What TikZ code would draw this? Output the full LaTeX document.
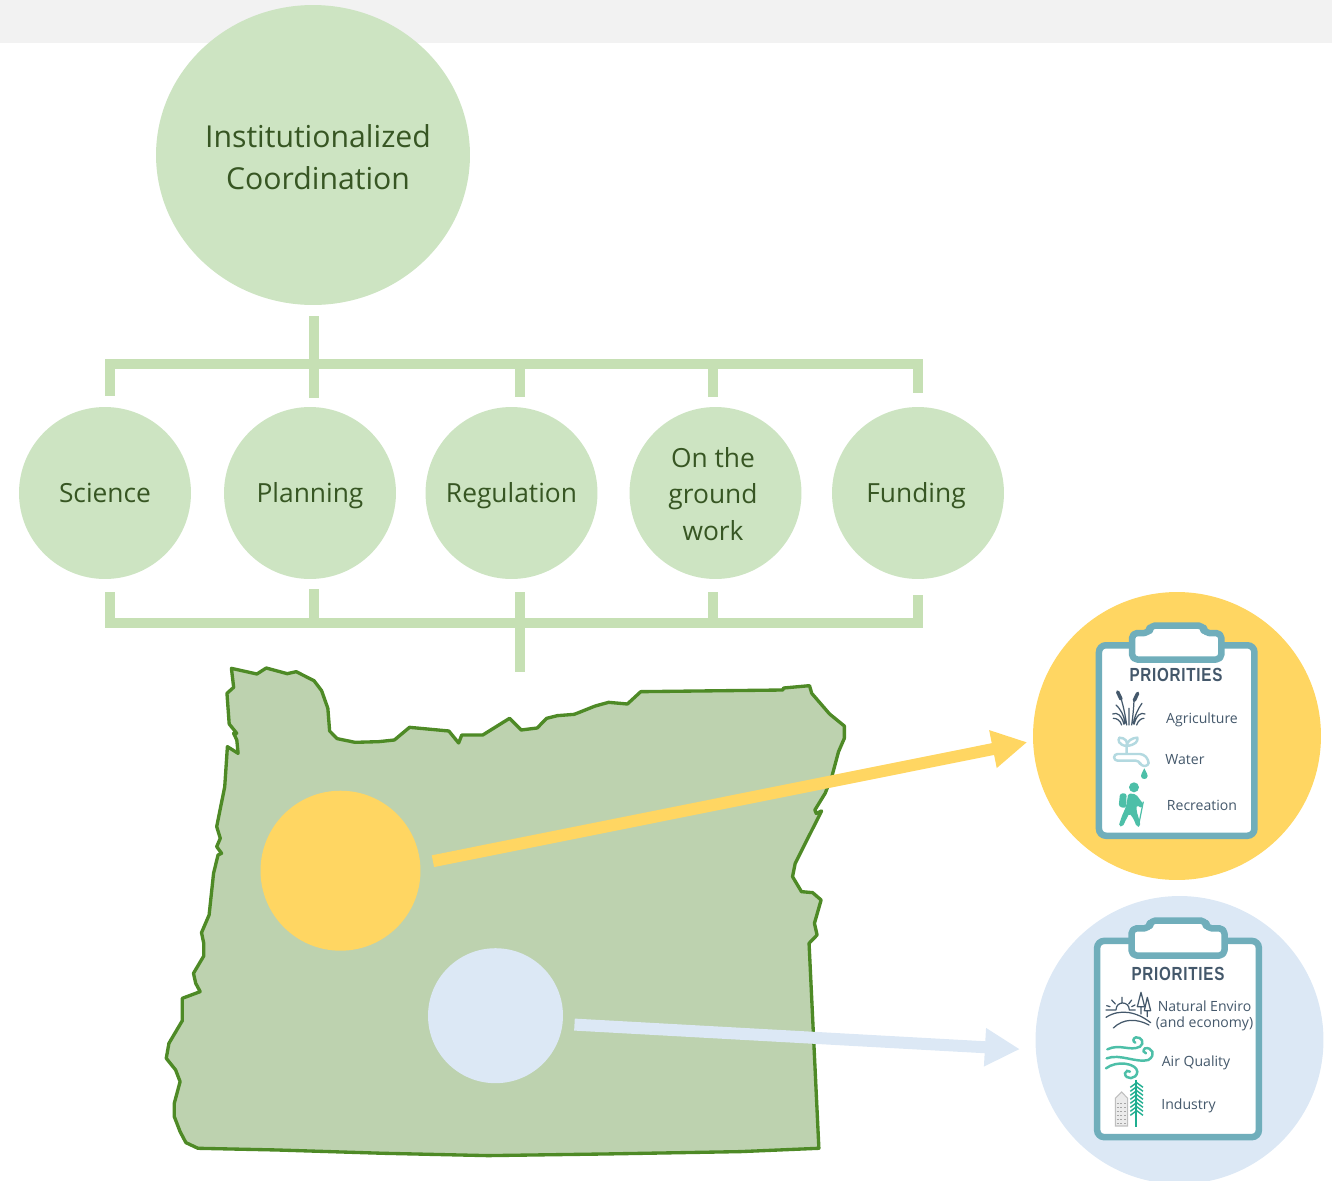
\documentclass[tikz,border=0pt]{standalone}
\usepackage{fontspec}
\usetikzlibrary{arrows.meta,shapes.geometric}
\setmainfont{Open Sans}
\newfontfamily\boardfont[LetterSpace=5]{Liberation Sans}
\newcommand{\boardhead}{\scalebox{0.8}[1]{\boardfont\bfseries\fontsize{10.8}{12}\selectfont PRIORITIES}}
\definecolor{bandgray}{HTML}{F2F2F2}
\definecolor{hubgreen}{HTML}{CDE4C2}
\definecolor{bargreen}{HTML}{C6E0B4}
\definecolor{hubtext}{HTML}{375623}
\definecolor{mapfill}{HTML}{BDD2AF}
\definecolor{mapline}{HTML}{4E8A26}
\definecolor{sunny}{HTML}{FFD662}
\definecolor{pale}{HTML}{DCE8F5}
\definecolor{boardteal}{HTML}{70AEBB}
\definecolor{slate}{HTML}{44586B}
\definecolor{mint}{HTML}{4DBFA8}
\definecolor{tapblue}{HTML}{B3D9E0}
\definecolor{pine}{HTML}{1FAE90}
\tikzset{hub/.style = {circle, fill=hubgreen, minimum size=3.44cm, inner sep=0pt, outer sep=0pt},
         hubname/.style = {text=hubtext, inner sep=0pt, align=center, font=\fontsize{15}{20.7}\selectfont},
         hubword/.style = {hubname, text height=11.3pt, text depth=0pt},
         bracket/.style = {bargreen, line width=0.2cm},
         spot/.style = {circle, inner sep=0pt, outer sep=0pt},
         pointer/.style = {line width=0.24cm, -{Triangle[length=0.7cm,width=0.72cm]}},
         boardtext/.style = {text=slate, inner sep=0pt, align=center, font=\fontsize{8}{9.1}\selectfont},
         boardtitle/.style = {text=slate, inner sep=0pt},
         clipboard/.pic = {\draw[boardteal, fill=white, line width=3.7pt, rounded corners=4pt]
                                (-77.75,-95.25) rectangle (77.75,95.25);
                           \draw[boardteal, fill=white, line width=3.7pt, line join=round, rounded corners=3pt]
                                (-44.7,-81) -- (-44.7,-107.5) -- (-27,-107.5) -- (-27,-115)
                                -- (27,-115) -- (27,-107.5) -- (44.7,-107.5) -- (44.7,-81) -- cycle;}}

\begin{document}
\begin{tikzpicture}[x=0.02cm,y=-0.02cm]
    \useasboundingbox (0,0) rectangle (1332,1180);
    \clip (0,0) rectangle (1332,1180);
    \fill[bandgray] (0,0) rectangle (1332,43);

    % circles
    \node[ellipse, fill=hubgreen, minimum width=6.28cm, minimum height=6cm, inner sep=0pt] (coordination) at (313,155) {};
    \node[text=hubtext, inner sep=0pt, align=center, font=\fontsize{17.2}{23.8}\selectfont] (coordname) at (318,157) {Institutionalized\\Coordination};
    \node[hub] (science) at (105,493) {};
    \node[hub] (planning) at (310,493) {};
    \node[hub] (regulation) at (511.5,493) {};
    \node[hub] (ground) at (715.5,493) {};
    \node[hub] (funding) at (918,493) {};
    \node[hubword] (sciencename) at (105,493) {Science};
    \node[hubword] (planningname) at (310,493) {Planning};
    \node[hubword] (regulationname) at (511.5,493) {Regulation};
    \node[hubname] (groundname) at (713,494) {On the\\ground\\work};
    \node[hubword] (fundingname) at (916,493) {Funding};

    % upper bracket
    \coordinate (topfoot) at (314,316);
    \coordinate (hubtop) at (314,364);
    \coordinate (sciencetop) at (110,396);
    \coordinate (planningtop) at (314,398);
    \coordinate (regulationtop) at (520,397);
    \coordinate (groundtop) at (712.5,397);
    \coordinate (fundingtop) at (917.5,393);
    \draw[bracket] (sciencetop) |- (hubtop) -| (fundingtop);
    \draw[bracket] (topfoot) -- (planningtop);
    \draw[bracket] (regulationtop) -- (regulationtop |- hubtop);
    \draw[bracket] (groundtop) -- (groundtop |- hubtop);

    % lower bracket
    \coordinate (hubbase) at (520,623);
    \coordinate (sciencebase) at (110,592);
    \coordinate (planningbase) at (314,589);
    \coordinate (regulationbase) at (520,592);
    \coordinate (groundbase) at (712.5,592);
    \coordinate (fundingbase) at (917.5,595);
    \coordinate (mapfoot) at (520,672);
    \draw[bracket] (sciencebase) |- (hubbase) -| (fundingbase);
    \draw[bracket] (planningbase) -- (planningbase |- hubbase);
    \draw[bracket] (regulationbase) -- (mapfoot);
    \draw[bracket] (groundbase) -- (groundbase |- hubbase);

    % state outline
    \begin{scope}[shift={(160,650)},xscale=0.4464,yscale=0.3333]
        \draw[fill=mapfill, draw=mapline, line width=1.9pt, line join=round]
            (160,55) -- (217,72) -- (238,54) -- (285,71) -- (305,65) -- (345,92) -- (362,122) -- (376,175)
            -- (380,243) -- (397,266) -- (437,277) -- (490,275) -- (525,270) -- (559,232) -- (647,243)
            -- (669,279) -- (676,255) -- (723,255) -- (783,205) -- (809,240) -- (845,234) -- (866,205)
            -- (890,197) -- (928,193) -- (975,168) -- (1005,157) -- (1047,162) -- (1077,125) -- (1395,120)
            -- (1397,114) -- (1455,107) -- (1460,130) -- (1500,192) -- (1533,228) -- (1533,265) -- (1520,305)
            -- (1505,380) -- (1490,430) -- (1467,480) -- (1470,490) -- (1482,483) -- (1423,640) -- (1417,680)
            -- (1437,725) -- (1462,728) -- (1481,750) -- (1466,820) -- (1472,855) -- (1454,880) -- (1476,1495)
            -- (1300,1505) -- (1000,1512) -- (735,1517) -- (500,1510) -- (260,1500) -- (85,1495) -- (58,1478)
            -- (45,1445) -- (32,1400) -- (32,1360) -- (45,1295) -- (35,1260) -- (14,1225) -- (20,1180)
            -- (50,1112) -- (50,1045) -- (90,1025) -- (80,1000) -- (75,970) -- (98,918) -- (98,880) -- (93,848)
            -- (110,795) -- (120,670) -- (130,615) -- (138,610) -- (127,590) -- (135,565) -- (127,530)
            -- (145,410) -- (151,290) -- (175,310) -- (172,270) -- (165,250) -- (172,250) -- (155,222)
            -- (150,130) -- (165,112) -- cycle;
    \end{scope}

    % regions and the badges they point to
    \node[spot, fill=sunny, minimum size=3.2cm] (sunspot) at (340.5,870.7) {};
    \node[spot, fill=pale, minimum size=2.7cm] (palespot) at (495.5,1015.7) {};
    \node[spot, fill=sunny, minimum size=5.76cm] (sunbadge) at (1177,736) {};
    \node[spot, fill=pale, minimum size=5.76cm] (palebadge) at (1179.5,1040) {};
    \draw[pointer, sunny, shorten <=0.26cm, shorten >=0.12cm] (sunspot.5) -- (sunbadge.182);
    \draw[pointer, pale, shorten <=0.24cm, shorten >=0.32cm] (palespot.-7) -- (palebadge.184.5);

    % clipboards
    \draw (1176.7,740.5) pic{clipboard};
    \draw (1178,1039) pic[xscale=1.04,yscale=1.03]{clipboard};

    \node[boardtitle] (suntitle) at (1176,675) {\boardhead};
    \node[boardtext] (agriculture) at (1202,719.5) {Agriculture};
    \node[boardtext] (water) at (1185,760) {Water};
    \node[boardtext] (recreation) at (1202,805) {Recreation};
    \node[boardtitle] (paletitle) at (1178,974) {\boardhead};
    \node[boardtext] (enviro) at (1204.5,1016) {Natural Enviro\\(and economy)};
    \node[boardtext] (air) at (1196,1063) {Air Quality};
    \node[boardtext] (industry) at (1188.5,1106) {Industry};

    % icons of the first board
    \begin{scope}[shift={(1030,590)},xscale=0.3333,yscale=0.3333]
        \draw[slate, line width=0.7pt, line cap=round]
            (290,405) .. controls (285,370) and (280,350) .. (274,328)
            (305,405) .. controls (310,370) and (311,350) .. (312,332)
            (297,405) -- (297,355)
            (282,403) .. controls (274,375) and (262,366) .. (248,372)
            (312,403) .. controls (320,375) and (332,366) .. (345,372)
            (285,400) .. controls (282,375) and (270,355) .. (258,345)
            (310,400) .. controls (315,375) and (325,355) .. (336,340)
            (275,405) .. controls (270,390) and (260,385) .. (250,385)
            (320,405) .. controls (325,390) and (335,385) .. (342,385);
        \draw[slate, line width=2pt, line cap=round] (263,306) -- (273,327);
        \draw[slate, line width=2pt, line cap=round] (323,310) -- (313,331);
        \draw[tapblue, line width=1.4pt, line join=round]
            (290,468) .. controls (265,465) and (263,450) .. (268,443) .. controls (285,443) and (295,455) .. (290,468)
            .. controls (290,455) and (305,443) .. (322,443) .. controls (325,455) and (315,465) .. (290,468) -- (290,492);
        \draw[tapblue, line width=1.4pt, line join=round, rounded corners=2pt]
            (252,492) -- (340,492) -- (356,510) -- (356,528) -- (332,528) -- (328,512) -- (252,512) -- cycle;
        \fill[mint] (343,535) .. controls (335,550) and (333,555) .. (333,558) .. controls (333,570) and (353,570) .. (353,558)
            .. controls (353,555) and (351,550) .. (343,535) -- cycle;
        \fill[mint] (312,592) ellipse [x radius=15, y radius=15];
        \fill[mint, rounded corners=1.5pt] (270,610) -- (290,610) -- (288,655) -- (266,650) -- cycle;
        \fill[mint, rounded corners=1pt] (295,610) -- (318,613) -- (342,645) -- (335,655) -- (320,645) -- (320,665) -- (325,680)
            -- (332,708) -- (320,710) -- (310,685) -- (298,670) -- (285,695) -- (278,710) -- (266,708)
            -- (275,680) -- (288,650) -- cycle;
        \draw[mint, line width=0.7pt] (340,635) -- (325,710);
    \end{scope}

    % icons of the second board
    \begin{scope}[shift={(1030,890)},xscale=0.3333,yscale=0.3333]
        \draw[slate, line width=0.7pt, line cap=round, line join=round]
            (228,382) .. controls (270,355) and (320,365) .. (362,398)
            (250,414) .. controls (280,385) and (320,385) .. (357,405)
            (228,360) -- (258,360) (298,360) -- (316,360)
            (258,360) .. controls (258,332) and (298,332) .. (298,360)
            (276,338) -- (276,322) (256,342) -- (245,330) (296,342) -- (305,330) (240,350) -- (230,347) (305,350) -- (315,345)
            (333,307) -- (322,350) -- (344,350) -- cycle (333,350) -- (333,372)
            (352,322) -- (343,362) -- (362,362) -- cycle (352,362) -- (352,380);
        \draw[mint, line width=1.4pt, line cap=round]
            (232,478) .. controls (270,460) and (300,485) .. (330,470) .. controls (345,460) and (335,440) .. (318,442) .. controls (308,445) and (308,455) .. (316,458)
            (230,505) .. controls (270,490) and (320,520) .. (355,510) .. controls (380,495) and (365,470) .. (345,475) .. controls (338,480) and (340,490) .. (348,490)
            (228,535) .. controls (260,510) and (320,520) .. (322,545) .. controls (320,570) and (285,570) .. (285,550) .. controls (287,542) and (295,540) .. (300,545);
        \draw[black!25, fill=black!8, line width=0.6pt]
            (256,708) -- (256,625) -- (275,606) -- (293,625) -- (293,708) -- cycle;
        \foreach \yy in {640,652,664,676,688,700}
            \draw[black!35, line width=0.9pt, dash pattern=on 1.2pt off 0.9pt] (260,\yy) -- (290,\yy);
        \draw[pine, line width=0.9pt] (318,570) -- (318,710);
        \foreach \yy in {578,590,602,614,626,638,650,662}
            \draw[pine, line width=0.8pt] (301,\yy+14) -- (320,\yy) -- (339,\yy+14);
    \end{scope}
\end{tikzpicture}
\end{document}
